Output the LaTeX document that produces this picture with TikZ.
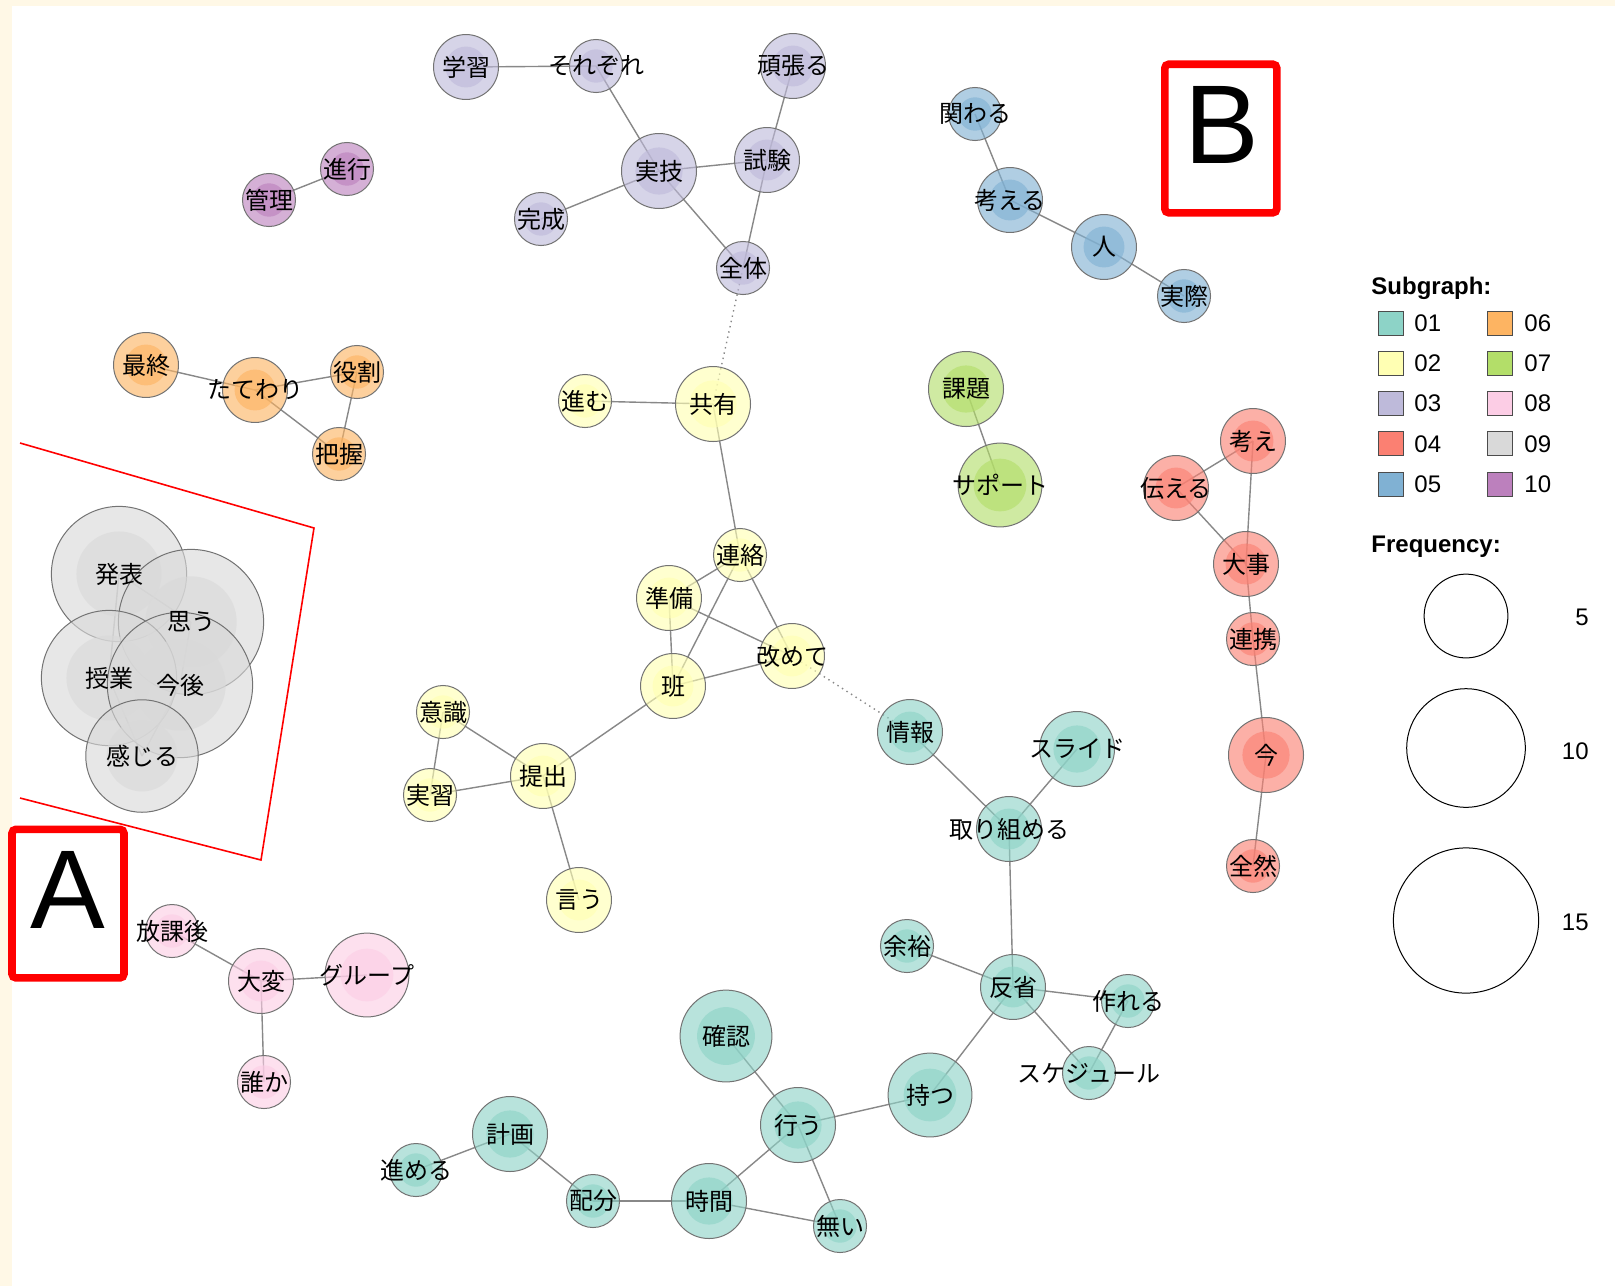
\documentclass[tikz,border=0pt]{standalone}
\usepackage{fontspec}
\setmainfont{Liberation Sans}
\newfontfamily\jpfont{Noto Sans CJK JP}

\definecolor{c01}{HTML}{8DD3C7}
\definecolor{c02}{HTML}{FFFFB3}
\definecolor{c03}{HTML}{BEBADA}
\definecolor{c04}{HTML}{FB8072}
\definecolor{c05}{HTML}{80B1D3}
\definecolor{c06}{HTML}{FDB462}
\definecolor{c07}{HTML}{B3DE69}
\definecolor{c08}{HTML}{FCCDE5}
\definecolor{c09}{HTML}{D9D9D9}
\definecolor{c10}{HTML}{BC80BD}
\definecolor{paper}{HTML}{FFF8E6}
\definecolor{linkgray}{HTML}{888888}

\newcommand{\kw}[1]{\makebox[0pt]{#1}}

\pgfdeclarelayer{paper}
\pgfdeclarelayer{links}
\pgfsetlayers{paper,links,main}

\begin{document}
\begin{tikzpicture}[x=0.5pt, y=-0.5pt,
    word/.style 2 args={circle, draw=black!55, line width=.5pt, fill=#1, fill opacity=.62, text opacity=1,
      inner sep=0pt, minimum size={18.75*sqrt(#2)*1pt}, font=\jpfont\fontsize{12}{14}\selectfont,
      path picture={\fill[#1] (path picture bounding box.center) circle[radius={5.9*sqrt(#2)*1pt}];}},
    wordtext/.style={inner sep=0pt, font=\jpfont\fontsize{12}{14}\selectfont},
    link/.style={draw=linkgray, line width=.7pt},
    weak/.style={draw=linkgray, line width=.7pt, dotted},
    tag/.style={draw=red, line width=3.8pt, rounded corners=2pt, minimum width=56pt, minimum height=74.3pt, inner sep=0pt},
    letter/.style={inner sep=0pt, font=\fontsize{56}{56}\selectfont},
    swatch/.style={draw=black!70, line width=.5pt, minimum width=12.5pt, minimum height=12pt, inner sep=0pt},
    key/.style={anchor=west, inner sep=0pt, font=\fontsize{12}{12}\selectfont},
    title/.style={anchor=base west, inner sep=0pt, font=\bfseries\fontsize{12}{12}\selectfont},
    ring/.style={circle, draw, line width=.5pt, inner sep=0pt}]

\useasboundingbox (0,0) rectangle (1615,1286);
\begin{pgfonlayer}{paper}
  \fill[paper] (0,0) rectangle (1615,1286);
  \fill[white] (12,6) rectangle (1615,1286);
\end{pgfonlayer}

% subgraph 03
\node[word={c03}{3}] (gakushu) at (466,67) {\kw{学習}};
\node[word={c03}{2}] (sorezore) at (596,66) {\kw{それぞれ}};
\node[word={c03}{3}] (ganbaru) at (793,66) {\kw{頑張る}};
\node[word={c03}{4}] (jitsugi) at (659,171) {\kw{実技}};
\node[word={c03}{3}] (shiken) at (767,160) {\kw{試験}};
\node[word={c03}{2}] (kansei) at (541,219) {\kw{完成}};
\node[word={c03}{2}] (zentai) at (743,268) {\kw{全体}};

% subgraph 10
\node[word={c10}{2}] (kanri) at (269,200) {\kw{管理}};
\node[word={c10}{2}] (shinko) at (347,169) {\kw{進行}};

% subgraph 06
\node[word={c06}{3}] (saishu) at (146,365) {\kw{最終}};
\node[word={c06}{3}] (tatewari) at (255,390) {\kw{たてわり}};
\node[word={c06}{2}] (yakuwari) at (357,372) {\kw{役割}};
\node[word={c06}{2}] (haaku) at (339,454) {\kw{把握}};

% subgraph 09 (overlapping, words set on top)
\node[word={c09}{13}] (happyo) at (119,574) {};
\node[word={c09}{15}] (omou) at (191,622) {};
\node[word={c09}{13}] (jugyo) at (109,678) {};
\node[word={c09}{15}] (kongo) at (180,685) {};
\node[word={c09}{9}] (kanjiru) at (142,756) {};
\node[wordtext] (happyo-t) at (happyo) {\kw{発表}};
\node[wordtext] (omou-t) at (omou) {\kw{思う}};
\node[wordtext] (jugyo-t) at (jugyo) {\kw{授業}};
\node[wordtext] (kongo-t) at (kongo) {\kw{今後}};
\node[wordtext] (kanjiru-t) at (kanjiru) {\kw{感じる}};

% subgraph 02
\node[word={c02}{2}] (susumu) at (585,401) {\kw{進む}};
\node[word={c02}{4}] (kyoyu) at (713,404) {\kw{共有}};
\node[word={c02}{2}] (renraku) at (740,555) {\kw{連絡}};
\node[word={c02}{3}] (junbi) at (669,598) {\kw{準備}};
\node[word={c02}{3}] (aratamete) at (792,656) {\kw{改めて}};
\node[word={c02}{3}] (han) at (673,686) {\kw{班}};
\node[word={c02}{2}] (ishiki) at (443,712) {\kw{意識}};
\node[word={c02}{2}] (jisshu) at (430,795) {\kw{実習}};
\node[word={c02}{3}] (teishutsu) at (543,776) {\kw{提出}};
\node[word={c02}{3}] (iu) at (579,900) {\kw{言う}};

% subgraph 05
\node[word={c05}{2}] (kakawaru) at (975,114) {\kw{関わる}};
\node[word={c05}{3}] (kangaeru) at (1010,200) {\kw{考える}};
\node[word={c05}{3}] (hito) at (1104,247) {\kw{人}};
\node[word={c05}{2}] (jissai) at (1184,296) {\kw{実際}};

% subgraph 07
\node[word={c07}{4}] (kadai) at (966,389) {\kw{課題}};
\node[word={c07}{5}] (support) at (1000,485) {\kw{サポート}};

% subgraph 04
\node[word={c04}{3}] (kangae) at (1253,441) {\kw{考え}};
\node[word={c04}{3}] (tsutaeru) at (1176,488) {\kw{伝える}};
\node[word={c04}{3}] (daiji) at (1246,564) {\kw{大事}};
\node[word={c04}{2}] (renkei) at (1253,639) {\kw{連携}};
\node[word={c04}{4}] (ima) at (1266,755) {\kw{今}};
\node[word={c04}{2}] (zenzen) at (1253,866) {\kw{全然}};

% subgraph 01
\node[word={c01}{3}] (joho) at (910,732) {\kw{情報}};
\node[word={c01}{4}] (slide) at (1077,749) {\kw{スライド}};
\node[word={c01}{3}] (torikumeru) at (1009,829) {\kw{取り組める}};
\node[word={c01}{2}] (yoyu) at (907,946) {\kw{余裕}};
\node[word={c01}{3}] (hansei) at (1013,987) {\kw{反省}};
\node[word={c01}{2}] (tsukureru) at (1128,1001) {\kw{作れる}};
\node[word={c01}{2}] (schedule) at (1089,1073) {\kw{スケジュール}};
\node[word={c01}{5}] (motsu) at (930,1095) {\kw{持つ}};
\node[word={c01}{6}] (kakunin) at (726,1036) {\kw{確認}};
\node[word={c01}{4}] (okonau) at (798,1125) {\kw{行う}};
\node[word={c01}{4}] (keikaku) at (510,1134) {\kw{計画}};
\node[word={c01}{2}] (susumeru) at (416,1170) {\kw{進める}};
\node[word={c01}{2}] (haibun) at (593,1201) {\kw{配分}};
\node[word={c01}{4}] (jikan) at (709,1201) {\kw{時間}};
\node[word={c01}{2}] (nai) at (840,1226) {\kw{無い}};

% subgraph 08
\node[word={c08}{2}] (hokago) at (172,931) {\kw{放課後}};
\node[word={c08}{3}] (taihen) at (261,981) {\kw{大変}};
\node[word={c08}{5}] (group) at (367,975) {\kw{グループ}};
\node[word={c08}{2}] (dareka) at (264,1082) {\kw{誰か}};

\begin{pgfonlayer}{links}
  \foreach \a/\b in {gakushu/sorezore, sorezore/jitsugi, jitsugi/shiken, jitsugi/kansei, jitsugi/zentai,
      shiken/ganbaru, shiken/zentai, kanri/shinko,
      saishu/tatewari, tatewari/yakuwari, tatewari/haaku, yakuwari/haaku,
      happyo/omou, happyo/jugyo, omou/kongo, kongo/kanjiru, jugyo/kanjiru,
      susumu/kyoyu, kyoyu/renraku, renraku/junbi, renraku/han, renraku/aratamete, junbi/han,
      junbi/aratamete, han/aratamete, han/teishutsu, teishutsu/ishiki, teishutsu/jisshu,
      ishiki/jisshu, teishutsu/iu,
      kakawaru/kangaeru, kangaeru/hito, hito/jissai, kadai/support,
      kangae/tsutaeru, tsutaeru/daiji, kangae/daiji, daiji/renkei, renkei/ima, ima/zenzen,
      joho/torikumeru, slide/torikumeru, torikumeru/hansei, yoyu/hansei, hansei/tsukureru,
      hansei/schedule, tsukureru/schedule, hansei/motsu, motsu/okonau, kakunin/okonau,
      okonau/jikan, okonau/nai, jikan/nai, jikan/haibun, haibun/keikaku, keikaku/susumeru,
      hokago/taihen, taihen/group, taihen/dareka}
    \draw[link] (\a.center) -- (\b.center);
  \draw[weak] (zentai.center) -- (kyoyu.center);
  \draw[weak] (aratamete.center) -- (joho.center);
\end{pgfonlayer}

% marks
\draw[red, line width=.8pt] (20,443) -- (314,528) -- (261,860) -- (20,798);
\node[tag] (boxA) at (68,903.6) {};
\node[letter] (lettA) at (68,890) {A};
\node[tag] (boxB) at (1220.8,138.5) {};
\node[letter] (lettB) at (1222,125) {B};

% legend
\node[title] (subttl) at (1371,294) {Subgraph:};
\foreach \n [count=\i from 0] in {01,02,03,04,05,06,07,08,09,10} {
  \pgfmathtruncatemacro\col{\i/5}
  \pgfmathtruncatemacro\row{mod(\i,5)}
  \node[swatch, fill=c\n] (sw\n) at ({1390.5+109*\col},{323+40.3*\row}) {};
  \node[key] (key\n) at ({1414+110*\col},{323+40.3*\row}) {\n};
}
\node[title] (frqttl) at (1371,552) {Frequency:};
\node[ring, minimum size=41.9pt] (fq5) at (1466,616) {};
\node[ring, minimum size=59.3pt] (fq10) at (1466,748) {};
\node[ring, minimum size=72.6pt] (fq15) at (1466,920.5) {};
\node[key, anchor=east] (fl5) at (1589,617) {5};
\node[key, anchor=east] (fl10) at (1589,751) {10};
\node[key, anchor=east] (fl15) at (1589,922) {15};
\end{tikzpicture}
\end{document}
